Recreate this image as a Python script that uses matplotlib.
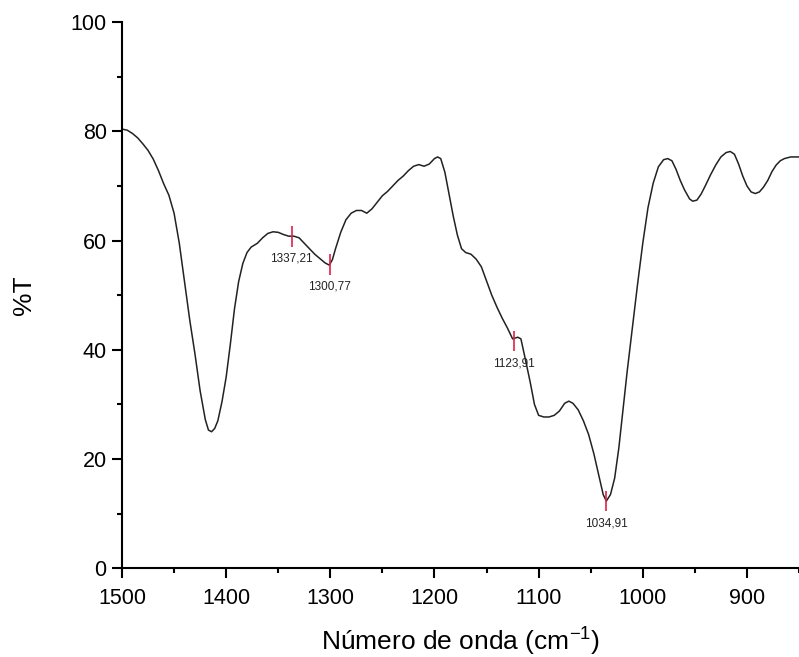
import matplotlib
matplotlib.use("Agg")
import matplotlib.pyplot as plt
from matplotlib.ticker import MultipleLocator

plt.rcParams['font.family'] = ['Liberation Sans', 'DejaVu Sans']
plt.rcParams['mathtext.fontset'] = 'custom'
plt.rcParams['mathtext.rm'] = 'Liberation Sans'

# espectro FTIR (numero de onda, %T)
numero_onda = [1500, 1495, 1490, 1485, 1480, 1475, 1470, 1465, 1460, 1455,
               1450, 1445, 1440, 1435, 1430, 1425, 1420, 1417, 1414, 1411,
               1408, 1404, 1400, 1396, 1392, 1388, 1384, 1380, 1376, 1370,
               1365, 1360, 1355, 1350, 1345, 1340, 1335, 1330, 1325, 1320,
               1315, 1310, 1305, 1301, 1298, 1295, 1290, 1285, 1280, 1275,
               1270, 1265, 1260, 1255, 1250, 1245, 1240, 1235, 1230, 1225,
               1220, 1215, 1210, 1205, 1200, 1197, 1194, 1190, 1186, 1182,
               1178, 1174, 1170, 1165, 1160, 1155, 1150, 1145, 1140, 1135,
               1130, 1125, 1120, 1117, 1113, 1108, 1104, 1100, 1095, 1090,
               1085, 1080, 1075, 1071, 1067, 1062, 1057, 1052, 1047, 1042,
               1038, 1035, 1031, 1027, 1023, 1019, 1015, 1010, 1005, 1000,
               995, 990, 985, 980, 976, 972, 968, 964, 960, 955,
               952, 948, 944, 940, 935, 930, 925, 920, 916, 912,
               908, 904, 900, 896, 892, 888, 884, 880, 876, 872,
               868, 864, 858, 852, 850]
transmitancia = [80.4, 80.2, 79.6, 78.8, 77.7, 76.5, 74.9, 72.8, 70.4, 68.3,
                 65.0, 59.5, 52.5, 45.5, 39.3, 32.5, 27.2, 25.3, 25.0, 25.6,
                 27.0, 30.5, 35.0, 41.0, 47.5, 52.5, 55.8, 57.8, 58.8, 59.5,
                 60.5, 61.3, 61.6, 61.5, 61.1, 60.8, 60.8, 60.5, 59.5, 58.5,
                 57.5, 56.7, 55.9, 55.5, 56.5, 58.5, 61.5, 63.8, 65.0, 65.5,
                 65.5, 65.0, 65.8, 67.0, 68.2, 69.0, 70.0, 71.0, 71.8, 72.8,
                 73.6, 73.9, 73.6, 74.0, 75.0, 75.3, 75.0, 72.5, 68.5, 64.5,
                 61.0, 58.5, 57.8, 57.5, 56.6, 55.2, 52.6, 50.0, 47.8, 45.8,
                 44.0, 42.0, 42.3, 42.0, 38.5, 34.0, 30.0, 28.0, 27.7, 27.7,
                 28.0, 28.8, 30.2, 30.6, 30.2, 29.0, 27.0, 24.5, 21.0, 16.8,
                 13.5, 12.3, 13.5, 16.5, 22.0, 29.0, 36.0, 44.0, 52.0, 59.5,
                 66.0, 70.5, 73.5, 74.8, 75.0, 74.6, 73.0, 71.0, 69.3, 67.6,
                 67.2, 67.4, 68.5, 70.0, 72.0, 73.8, 75.3, 76.1, 76.3, 75.8,
                 74.0, 71.8, 70.0, 68.9, 68.6, 68.9, 69.8, 71.0, 72.6, 73.8,
                 74.6, 75.0, 75.3, 75.3, 75.3]

# picos marcados
picos_x = [1337.21, 1300.77, 1123.91, 1034.91]
picos_y = [60.8, 55.6, 41.6, 12.3]

fig = plt.figure(figsize=(7.99, 6.57), dpi=100)
ax = fig.add_axes([0.1527, 0.135, 0.8473, 0.8315])

ax.plot(numero_onda, transmitancia, color='#222222', linewidth=1.1)

ax.vlines(picos_x, [y - 1.9 for y in picos_y], [y + 1.9 for y in picos_y],
          color='#e0204a', linewidth=1.2)
for px, py in zip(picos_x, picos_y):
    ax.annotate(f"{px:.2f}".replace('.', ','), xy=(px, py), xytext=(0, -16),
                textcoords='offset points', ha='center', va='center',
                fontsize=8.5, color='#222222')

ax.set_xlim(1500, 850)
ax.set_ylim(0, 100)
ax.xaxis.set_major_locator(MultipleLocator(100))
ax.xaxis.set_minor_locator(MultipleLocator(50))
ax.yaxis.set_major_locator(MultipleLocator(20))
ax.yaxis.set_minor_locator(MultipleLocator(10))

for s in ['top', 'right']:
    ax.spines[s].set_visible(False)
for s in ['left', 'bottom']:
    ax.spines[s].set_linewidth(1.5)

ax.tick_params(which='major', direction='out', length=7, width=1.5,
               labelsize=15.5)
ax.tick_params(axis='x', which='major', pad=7)
ax.tick_params(axis='y', which='major', pad=4)
ax.tick_params(which='minor', direction='out', length=3.6, width=1.5)

ax.set_xlabel('Número de onda (cm$^{\\mathrm{-1}}$)', fontsize=19, labelpad=11)
ax.set_ylabel('%T', fontsize=19, labelpad=25)

fig.savefig('out.png', dpi=100, facecolor='white')
